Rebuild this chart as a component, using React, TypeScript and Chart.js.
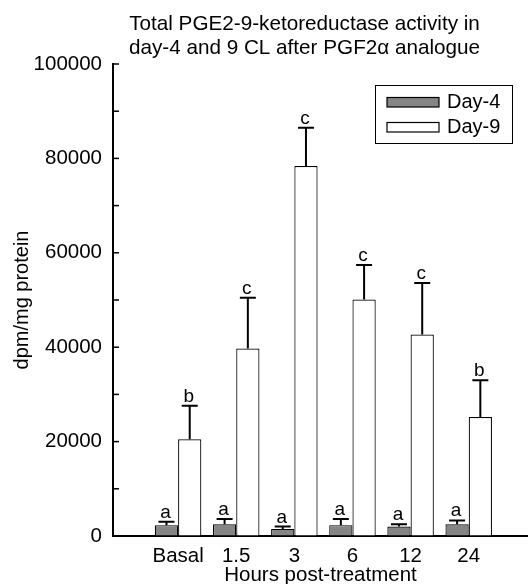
import React, { useEffect, useRef } from 'react';
import { Chart, registerables } from 'chart.js';

Chart.register(...registerables);

const categories = ['Basal', '1.5', '3', '6', '12', '24'];
const seriesNames = ['Day-4', 'Day-9'];
const day4Values = [2300, 2500, 1500, 2300, 2000, 2500];
const day4Errors = [700, 1100, 500, 1300, 500, 800];
const day9Values = [20500, 39700, 78400, 50100, 42700, 25200];
const day9Errors = [7100, 10800, 8100, 7300, 10900, 7800];
const day4Letters = ['a', 'a', 'a', 'a', 'a', 'a'];
const day9Letters = ['b', 'c', 'c', 'c', 'c', 'b'];
const yTicks = [0, 20000, 40000, 60000, 80000, 100000];
const yMinorTicks = [10000, 30000, 50000, 70000, 90000];
const titleLines = ['Total PGE2-9-ketoreductase activity in', 'day-4 and 9 CL after PGF2\u03b1 analogue'];
const xTitle = 'Hours post-treatment';
const yTitle = 'dpm/mg protein';

const FAMILY = '"Liberation Sans", Arial, Helvetica, sans-serif';
const GRAY = '#858585';
const X_MIN = -1.12;
const X_MAX = 6.02;

const allValues = [day4Values, day9Values];
const allErrors = [day4Errors, day9Errors];
const allLetters = [day4Letters, day9Letters];
const fills = [GRAY, '#ffffff'];

const decorPlugin = {
  id: 'decor',
  afterDraw(chart: any) {
    const { ctx, chartArea, scales } = chart;
    const y = scales.y;
    ctx.save();
    // inward y ticks
    ctx.strokeStyle = '#000';
    ctx.lineWidth = 1.5;
    [...yTicks, ...yMinorTicks].forEach((v) => {
      const py = y.getPixelForValue(v);
      ctx.beginPath();
      ctx.moveTo(chartArea.left, py);
      ctx.lineTo(chartArea.left + 6, py);
      ctx.stroke();
    });
    // error bars and letters
    chart.data.datasets.forEach((_ds: any, di: number) => {
      const meta = chart.getDatasetMeta(di);
      meta.data.forEach((bar: any, i: number) => {
        const top = y.getPixelForValue(allValues[di][i] + allErrors[di][i]);
        ctx.strokeStyle = '#000';
        ctx.lineWidth = 2;
        ctx.beginPath();
        ctx.moveTo(bar.x, bar.y);
        ctx.lineTo(bar.x, top);
        ctx.moveTo(bar.x - 8, top);
        ctx.lineTo(bar.x + 8, top);
        ctx.stroke();
        ctx.fillStyle = '#000';
        ctx.font = `19px ${FAMILY}`;
        ctx.textAlign = 'center';
        ctx.textBaseline = 'alphabetic';
        ctx.fillText(allLetters[di][i], bar.x - 1, top - 4);
      });
    });
    // legend
    const lx = chartArea.right - 153;
    const ly = chartArea.top + 21;
    ctx.lineWidth = 1;
    ctx.strokeStyle = '#000';
    ctx.fillStyle = '#fff';
    ctx.fillRect(lx, ly, 137, 58);
    ctx.strokeRect(lx + 0.5, ly + 0.5, 137, 58);
    seriesNames.forEach((name, k) => {
      const cy = ly + 17 + k * 25;
      ctx.fillStyle = fills[k];
      ctx.fillRect(lx + 12, cy - 4.5, 52, 9.5);
      ctx.strokeStyle = '#000';
      ctx.lineWidth = 1.2;
      ctx.strokeRect(lx + 12, cy - 4.5, 52, 9.5);
      ctx.fillStyle = '#000';
      ctx.font = `20px ${FAMILY}`;
      ctx.textAlign = 'left';
      ctx.textBaseline = 'middle';
      ctx.fillText(name, lx + 72, cy);
    });
    // title
    ctx.fillStyle = '#000';
    ctx.font = `20.7px ${FAMILY}`;
    ctx.textAlign = 'center';
    ctx.textBaseline = 'alphabetic';
    const tx = (chartArea.left + chartArea.right) / 2 - 16;
    titleLines.forEach((line, k) => {
      ctx.fillText(line, tx, 30 + k * 24);
    });
    ctx.restore();
  },
};

export default function App() {
  const ref = useRef<HTMLCanvasElement | null>(null);
  useEffect(() => {
    if (!ref.current) return;
    const chart = new Chart(ref.current, {
      type: 'bar',
      data: {
        datasets: [
          {
            label: seriesNames[0],
            data: categories.map((_, i) => ({ x: i, y: day4Values[i] })),
            backgroundColor: fills[0],
            borderColor: '#000',
            borderWidth: 1.2,
            categoryPercentage: 0.8,
            barPercentage: 1.0,
          },
          {
            label: seriesNames[1],
            data: categories.map((_, i) => ({ x: i, y: day9Values[i] })),
            backgroundColor: fills[1],
            borderColor: '#000',
            borderWidth: 1.2,
            categoryPercentage: 0.8,
            barPercentage: 1.0,
          },
        ],
      } as any,
      options: {
        animation: false,
        responsive: true,
        maintainAspectRatio: false,
        layout: { padding: { top: 64, left: 0, right: 0, bottom: 0 } },
        plugins: {
          legend: { display: false },
          title: { display: false },
          tooltip: { enabled: false },
        },
        scales: {
          x: {
            type: 'linear',
            min: X_MIN,
            max: X_MAX,
            bounds: 'data',
            offset: false,
            afterBuildTicks: (s: any) => {
              s.ticks = categories.map((_, i) => ({ value: i }));
              s.min = X_MIN;
              s.max = X_MAX;
            },
            afterFit: (s: any) => {
              s.height = 48;
            },
            ticks: {
              callback: (v: any) => categories[v] ?? '',
              font: { size: 20.5, family: FAMILY },
              color: '#000',
              padding: 8,
              autoSkip: false,
              maxRotation: 0,
            },
            grid: { display: true, drawOnChartArea: false, drawTicks: false, offset: false },
            border: { display: true, color: '#000', width: 2 },
            title: {
              display: true,
              text: xTitle,
              font: { size: 20.5, family: FAMILY, lineHeight: 0.8 },
              color: '#000',
              padding: 0,
            },
          },
          y: {
            min: 0,
            max: 100000,
            afterBuildTicks: (s: any) => {
              s.ticks = yTicks.map((v) => ({ value: v }));
            },
            afterFit: (s: any) => {
              s.width = 113;
            },
            ticks: {
              callback: (v: any) => String(v),
              font: { size: 20.5, family: FAMILY },
              color: '#000',
              padding: 11,
            },
            grid: { display: true, drawOnChartArea: false, drawTicks: false },
            border: { display: true, color: '#000', width: 2 },
            title: {
              display: true,
              text: yTitle,
              font: { size: 20, family: FAMILY },
              color: '#000',
              padding: { top: 10, bottom: 0 },
            },
          },
        },
      } as any,
      plugins: [decorPlugin],
    });
    return () => chart.destroy();
  }, []);
  return (
    <div style={{ position: 'fixed', left: 0, top: 0, width: 528, height: 584, background: '#fff' }}>
      <canvas ref={ref} />
    </div>
  );
}
